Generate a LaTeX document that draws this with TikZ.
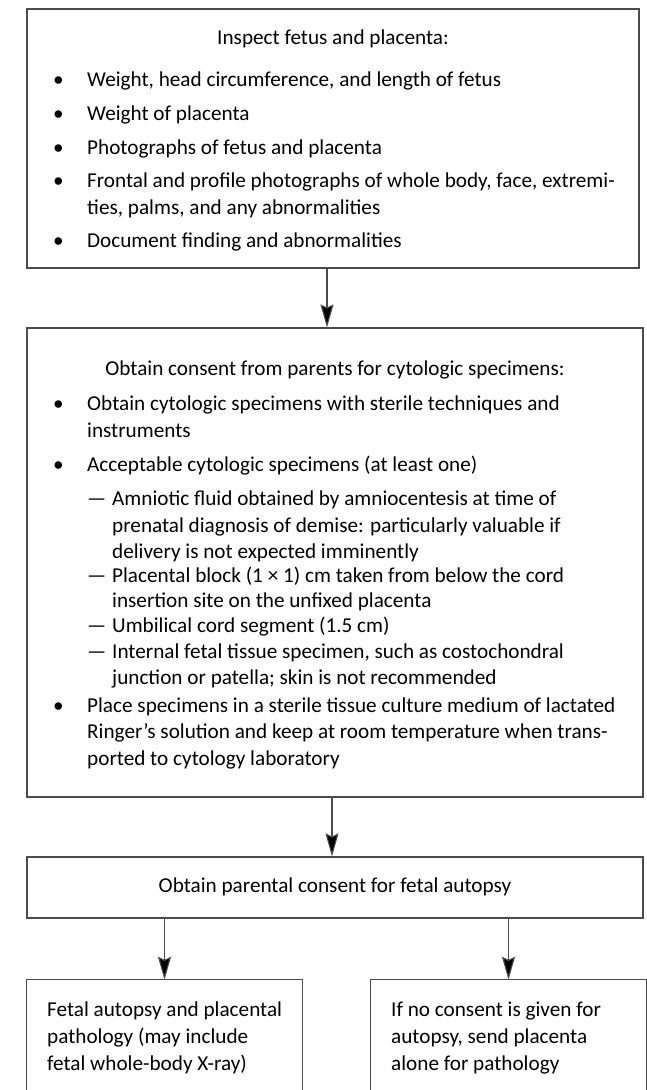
\documentclass[tikz,border=0pt]{standalone}
\usepackage{fontspec}
\setmainfont{Carlito}
\usetikzlibrary{arrows.meta}
\newcommand\fsz{\fontsize{21.2}{26}\selectfont}
\newcommand\bul{\makebox[34pt][l]{•}}
\newcommand\dsh{\makebox[25pt][l]{—}}
\tikzset{
  boxline/.style={draw=black!70, line width=1.1pt},
  box/.style={boxline, inner sep=0, minimum width=#1},
  ln/.style={anchor=base west, inner sep=0, font=\fsz},
  tl/.style={anchor=base, inner sep=0, font=\fsz},
  arr/.style={draw=black!70, line width=1.1pt, -{Stealth[length=23pt,width=13pt,inset=3pt,fill=black]}}
}
\begin{document}
\begin{tikzpicture}[x=1pt,y=-1pt]
\useasboundingbox (0,0) rectangle (647,1090);
% boxes
\node[box=612pt, minimum height=259pt] (b1) at (333,138.5) {};
\node[box=616pt, minimum height=469pt] (b2) at (335,562.5) {};
\node[box=616pt, minimum height=61pt] (b3) at (335,887.5) {};
\node[inner sep=0, minimum width=275pt, minimum height=120pt] (bl) at (164.5,1040) {};
\node[inner sep=0, minimum width=275pt, minimum height=120pt] (br) at (508.5,1040) {};
\draw[boxline] (bl.south west) -- (bl.north west) -- (bl.north east) -- (bl.south east);
\draw[boxline] (br.south west) -- (br.north west) -- (br.north east) -- (br.south east);
% box 1 text
\node[tl] (t1) at (333,44) {Inspect fetus and placenta:};
\node[ln] (t1a) at (53,86) {\bul Weight, head circumference, and length of fetus};
\node[ln] (t1b) at (53,120.5) {\bul Weight of placenta};
\node[ln] (t1c) at (53,154) {\bul Photographs of fetus and placenta};
\node[ln] (t1d) at (53,187.5) {\bul Frontal and profile photographs of whole body, face, extremi-};
\node[ln] (t1e) at (87,214.5) {ties, palms, and any abnormalities};
\node[ln] (t1f) at (53,247) {\bul Document finding and abnormalities};
% box 2 text
\node[tl] (t2) at (335,375) {Obtain consent from parents for cytologic specimens:};
\node[ln] (t2a) at (53,410) {\bul Obtain cytologic specimens with sterile techniques and};
\node[ln] (t2b) at (87,437) {instruments};
\node[ln] (t2c) at (53,471) {\bul Acceptable cytologic specimens (at least one)};
\node[ln] (t2d) at (87,505) {\dsh Amniotic fluid obtained by amniocentesis at time of};
\node[ln] (t2e) at (112,532) {prenatal diagnosis of demise: particularly valuable if};
\node[ln] (t2f) at (112,558) {delivery is not expected imminently};
\node[ln] (t2g) at (87,582) {\dsh Placental block (1 × 1) cm taken from below the cord};
\node[ln] (t2h) at (112,607) {insertion site on the unfixed placenta};
\node[ln] (t2i) at (87,632) {\dsh Umbilical cord segment (1.5 cm)};
\node[ln] (t2j) at (87,658) {\dsh Internal fetal tissue specimen, such as costochondral};
\node[ln] (t2k) at (112,684) {junction or patella; skin is not recommended};
\node[ln] (t2l) at (53,712) {\bul Place specimens in a sterile tissue culture medium of lactated};
\node[ln] (t2m) at (87,738) {Ringer’s solution and keep at room temperature when trans-};
\node[ln] (t2n) at (87,765) {ported to cytology laboratory};
% box 3 text
\node[tl] (t3) at (335,892) {Obtain parental consent for fetal autopsy};
% bottom boxes text
\node[ln] (t4a) at (47,1016) {Fetal autopsy and placental};
\node[ln] (t4b) at (47,1043) {pathology (may include};
\node[ln] (t4c) at (47,1070) {fetal whole-body X-ray)};
\node[ln] (t5a) at (391,1016) {If no consent is given for};
\node[ln] (t5b) at (391,1043) {autopsy, send placenta};
\node[ln] (t5c) at (391,1070) {alone for pathology};
% arrows
\draw[arr] ([xshift=-6pt]b1.south) -- ([xshift=-8pt]b2.north);
\draw[arr] ([xshift=-3pt]b2.south) -- ([xshift=-3pt]b3.north);
\draw[arr] (bl.north |- b3.south) -- (bl.north);
\draw[arr] (br.north |- b3.south) -- (br.north);
\end{tikzpicture}
\end{document}
